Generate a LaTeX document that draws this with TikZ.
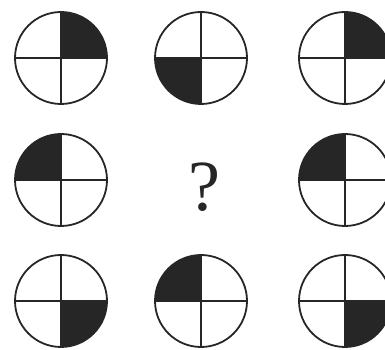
\documentclass[tikz,border=0pt]{standalone}
\usepackage{fontspec}
\newfontfamily\qfont{Liberation Serif}
\begin{document}
\begin{tikzpicture}[x=1pt,y=1pt,
  ring/.style={line width=1.8pt, draw=black!85},
  quad/.style={fill=black!85}]
\useasboundingbox (0,0) rectangle (385,350);
\foreach \x/\y/\a/\n in {61/292/0/a1, 201/292/180/a2, 345/292/0/a3,
                         61/170/90/b1, 345/170/90/b3,
                         61/49/270/c1, 201/49/90/c2, 345/49/270/c3}{
  \fill[quad] (\x,\y) -- ++(\a:46pt) arc[start angle=\a, end angle=\a+90, radius=46pt] -- cycle;
  \node[ring, circle, minimum size=92pt, inner sep=0pt] (\n) at (\x,\y) {};
  \draw[ring] (\n.north) -- (\n.south) (\n.west) -- (\n.east);
}
\node[inner sep=0pt, text=black!85] (q) at (204,163) {\qfont\fontsize{72}{74}\selectfont ?};
\end{tikzpicture}
\end{document}
